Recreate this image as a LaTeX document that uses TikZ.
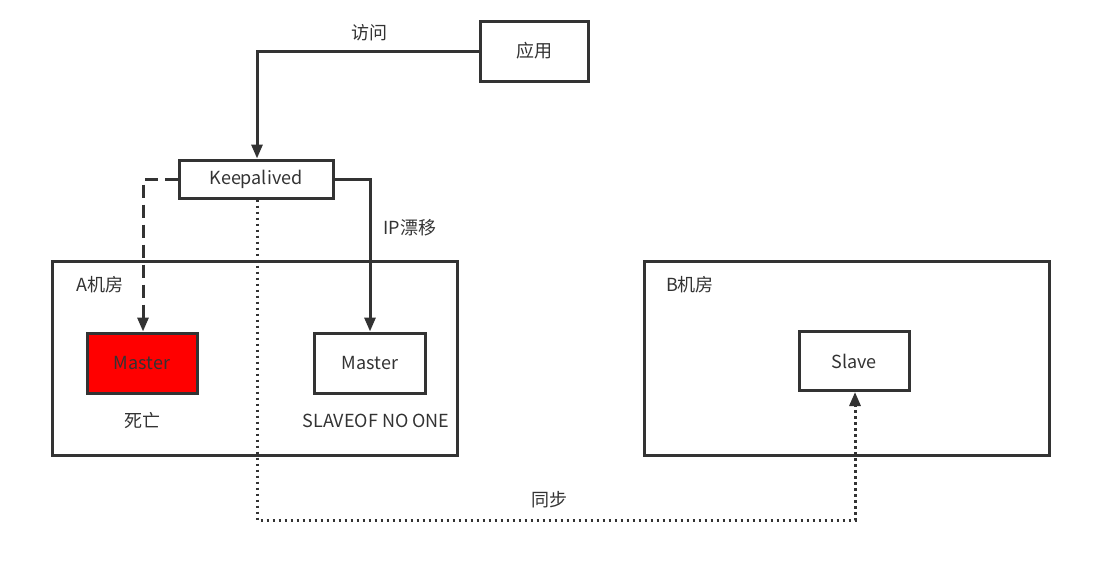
\documentclass[tikz,border=0pt]{standalone}
\usepackage{fontspec}
\setmainfont{Noto Sans CJK SC}
\usetikzlibrary{arrows.meta}
\definecolor{ln}{HTML}{333333}
\tikzset{
  box/.style={draw=ln, line width=3pt, fill=white, minimum width=#1, inner sep=0pt, text=ln, font=\fontsize{18}{20}\selectfont},
  box/.default=110pt,
  lbl/.style={text=ln, inner sep=0pt, font=\fontsize{18}{20}\selectfont},
  conn/.style={draw=ln, line width=3pt, -{Triangle[width=11pt,length=14pt]}},
  room/.style={draw=ln, line width=3pt},
}
\begin{document}
\begin{tikzpicture}[x=1pt,y=-1pt]
\useasboundingbox (0,0) rectangle (1102,568);
% rooms
\draw[room] (52,261) rectangle (457,455);
\draw[room] (644,261) rectangle (1049,455);
\node[lbl] (roomA) at (100,285) {A机房};
\node[lbl] (roomB) at (690,285) {B机房};
% nodes
\node[box=108pt, minimum height=60pt] (app) at (534,51) {应用};
\node[box=154pt, minimum height=38pt] (kp) at (256,179) {Keepalived};
\node[box=110pt, minimum height=60pt, fill={rgb,255:red,255;green,0;blue,0}] (m1) at (142,363) {Master};
\node[box=111pt, minimum height=60pt] (m2) at (370,363) {Master};
\node[box=110pt, minimum height=59pt] (sl) at (854,361) {Slave};
\node[lbl] (dead) at (142,421) {死亡};
\node[lbl] (slaveof) at (376,421) {SLAVEOF NO ONE};
% connectors
\coordinate (c1) at (257,51);
\draw[conn] (app.west) -- (c1) -- (c1 |- kp.north);
\node[lbl] (visit) at (369,33) {访问};
\coordinate (c2) at (143,179);
\draw[conn, dash pattern=on 13pt off 7pt] (kp.west) -- (c2) -- (c2 |- m1.north);
\coordinate (c3) at (370,179);
\draw[conn] (kp.east) -- (c3) -- (c3 |- m2.north);
\node[lbl] (ip) at (410,228) {IP漂移};
\coordinate (c4) at (257,520);
\coordinate (c5) at (855,520);
\draw[conn, dash pattern=on 2.5pt off 3.5pt] (kp.south -| c4) -- (c4) -- (c5) -- (c5 |- sl.south);
\node[lbl] (sync) at (549,500) {同步};
\end{tikzpicture}
\end{document}
